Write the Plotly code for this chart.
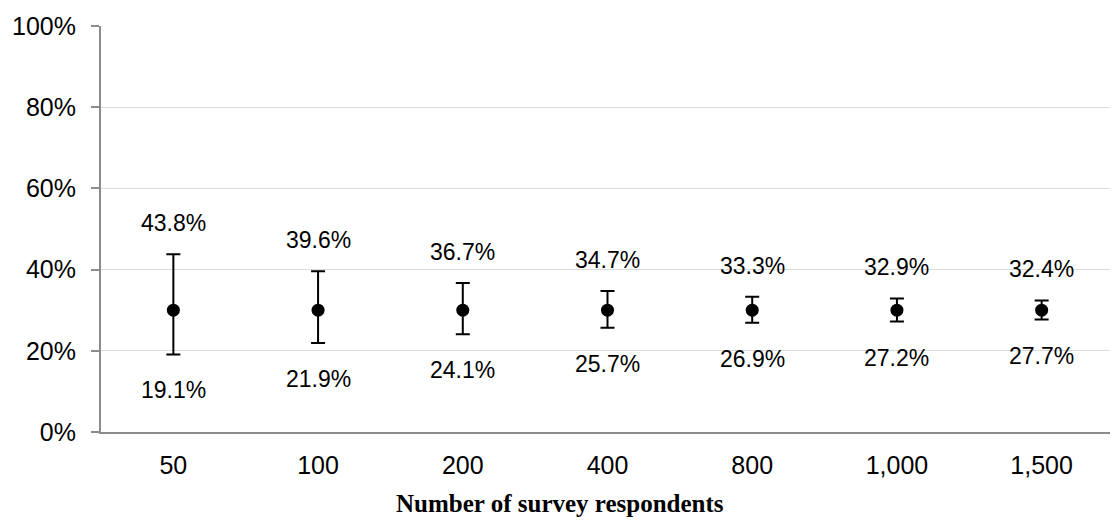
import plotly.graph_objects as go

categories = ["50", "100", "200", "400", "800", "1,000", "1,500"]
estimate = [30, 30, 30, 30, 30, 30, 30]
upper = [43.8, 39.6, 36.7, 34.7, 33.3, 32.9, 32.4]
lower = [19.1, 21.9, 24.1, 25.7, 26.9, 27.2, 27.7]
y_ticks = [0, 20, 40, 60, 80, 100]
y_tick_labels = ["0%", "20%", "40%", "60%", "80%", "100%"]

err_plus = [u - e for u, e in zip(upper, estimate)]
err_minus = [e - l for e, l in zip(estimate, lower)]

fig = go.Figure()
fig.add_trace(go.Scatter(
    x=categories, y=estimate, mode="markers",
    marker=dict(color="black", size=13),
    error_y=dict(type="data", symmetric=False, array=err_plus, arrayminus=err_minus,
                 color="black", thickness=2, width=7),
    showlegend=False, hoverinfo="skip",
))

font_lbl = dict(family="Liberation Sans, Arial, sans-serif", size=23, color="#000")
for i, (u, l) in enumerate(zip(upper, lower)):
    fig.add_annotation(x=i, y=u, text=f"{u:.1f}%", showarrow=False,
                       yanchor="bottom", yshift=16, font=font_lbl)
    fig.add_annotation(x=i, y=l, text=f"{l:.1f}%", showarrow=False,
                       yanchor="top", yshift=-21, font=font_lbl)

# x-axis title, centred on the whole chart as in the reference
fig.add_annotation(
    xref="paper", yref="paper",
    x=(551 - 91) / 1015, y=-72 / 409,
    xanchor="center", yanchor="middle",
    text="<b>Number of survey respondents</b>", showarrow=False,
    font=dict(family="Liberation Serif, Times New Roman, serif", size=25, color="#000"),
)

fig.update_layout(
    width=1110, height=512,
    margin=dict(l=91, r=4, t=15, b=88),
    paper_bgcolor="white", plot_bgcolor="white",
    font=dict(family="Liberation Sans, Arial, sans-serif", size=25, color="#000"),
    xaxis=dict(
        type="category", categoryorder="array", categoryarray=categories,
        range=[-0.5, 6.5],
        showline=True, linecolor="#8c8c8c", linewidth=2,
        showgrid=False, ticks="", tickfont=dict(size=25, color="#000"),
        ticklabelstandoff=10,
    ),
    yaxis=dict(
        range=[0, 100], tickmode="array", tickvals=y_ticks, ticktext=y_tick_labels,
        showline=True, linecolor="#8c8c8c", linewidth=2,
        ticks="outside", ticklen=8, tickcolor="#8c8c8c", tickwidth=2,
        showgrid=True, gridcolor="#dcdcdc", gridwidth=1,
        zeroline=False, tickfont=dict(size=25, color="#000"),
        ticklabelstandoff=10,
    ),
)

fig.write_html("out.html")
